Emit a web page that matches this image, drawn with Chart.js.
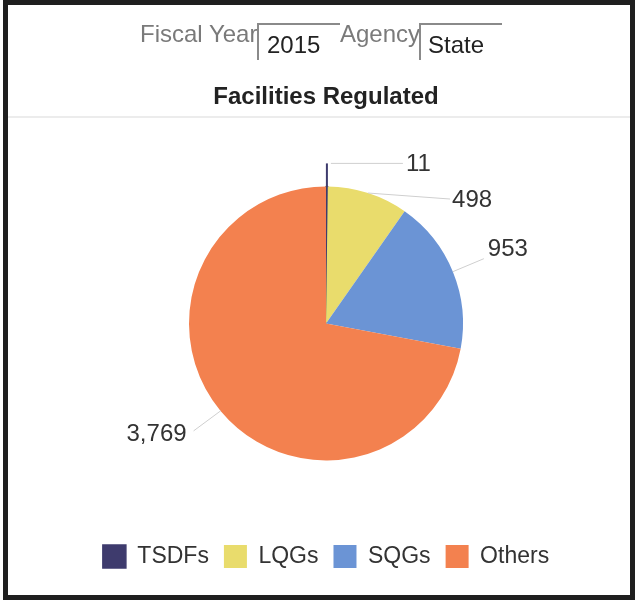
<!DOCTYPE html>
<html><head><meta charset="utf-8">
<script src="https://cdn.jsdelivr.net/npm/chart.js@4.4.1/dist/chart.umd.min.js"></script>
<style>
html,body{margin:0;padding:0;background:#fff;}
body{width:635px;height:602px;position:relative;overflow:hidden;font-family:'Liberation Sans',Arial,sans-serif;}
#frame{position:absolute;left:3px;top:0;width:632px;height:600px;border:5px solid #1f1f1f;box-sizing:border-box;}
#sep{position:absolute;left:8px;top:116px;width:622px;height:2px;background:#ececec;}
#wrap{position:absolute;left:0;top:0;width:635px;height:602px;}
.t{position:absolute;font-size:24px;line-height:24px;white-space:nowrap;z-index:2;}
.lbl{color:#7a7a7a;}
.val{color:#222;}
.box{position:absolute;border-top:2px solid #8a8a8a;border-left:2px solid #8a8a8a;z-index:2;}
</style></head>
<body>
<div id="frame"></div>
<div id="sep"></div>
<div id="wrap"><canvas id="c" width="635" height="602"></canvas></div>
<div class="t lbl" id="fyLabel" style="left:140px;top:22px;">Fiscal Year</div>
<div class="box" style="left:257px;top:23px;width:81px;height:35px;"></div>
<div class="t val" id="fyValue" style="left:267px;top:33px;"></div>
<div class="t lbl" id="agLabel" style="left:340px;top:22px;">Agency</div>
<div class="box" style="left:419px;top:23px;width:81px;height:35px;"></div>
<div class="t val" id="agValue" style="left:428px;top:33px;"></div>
<script>
// ---- data ----
const categories = ['TSDFs', 'LQGs', 'SQGs', 'Others'];
const facilities = [11, 498, 953, 3769];
const fiscalYear = '2015';
const agency = 'State';
const chartTitle = 'Facilities Regulated';

// ---- styles ----
const sliceColors = ['#3e3b6d', '#e9dc6c', '#6b94d5', '#f3814f'];
const FONT = "'Liberation Sans', Arial, sans-serif";

document.getElementById('fyValue').textContent = fiscalYear;
document.getElementById('agValue').textContent = agency;

// leader line geometry relative to each slice's outer mid-point
const leaderGeometry = [
  {elbow: [0, -23], end: [76, -23], text: [79, -22], align: 'left'},
  {elbow: null, end: [82, 6], text: [84, 7], align: 'left'},
  {elbow: null, end: [31, -13], text: [35, -22], align: 'left'},
  {elbow: null, end: [-27, 20], text: [-34, 23], align: 'right'}
];

const leaderLabels = {
  id: 'leaderLabels',
  afterDatasetsDraw(chart) {
    const ctx = chart.ctx;
    const meta = chart.getDatasetMeta(0);
    const data = chart.data.datasets[0].data;
    meta.data.forEach((arc, i) => {
      const p = arc.getProps(['x', 'y', 'startAngle', 'endAngle', 'outerRadius'], true);
      const mid = (p.startAngle + p.endAngle) / 2;
      const ex = p.x + Math.cos(mid) * p.outerRadius;
      const ey = p.y + Math.sin(mid) * p.outerRadius;
      const g = leaderGeometry[i];
      ctx.save();
      let sx = ex, sy = ey;
      if (g.elbow) {
        ctx.strokeStyle = sliceColors[i];
        ctx.lineWidth = 2;
        ctx.beginPath();
        ctx.moveTo(ex, ey);
        ctx.lineTo(ex + g.elbow[0], ey + g.elbow[1]);
        ctx.stroke();
        sx = ex + g.elbow[0] + 4; sy = ey + g.elbow[1];
      }
      ctx.strokeStyle = '#cfcfcf';
      ctx.lineWidth = 1;
      ctx.beginPath();
      ctx.moveTo(sx, sy);
      ctx.lineTo(ex + g.end[0], ey + g.end[1]);
      ctx.stroke();
      ctx.fillStyle = '#333';
      ctx.font = '24px ' + FONT;
      ctx.textAlign = g.align;
      ctx.textBaseline = 'middle';
      ctx.fillText(data[i].toLocaleString('en-US'), ex + g.text[0], ey + g.text[1]);
      ctx.restore();
    });
  }
};

new Chart(document.getElementById('c'), {
  type: 'pie',
  data: {
    labels: categories,
    datasets: [{
      data: facilities,
      backgroundColor: sliceColors,
      borderColor: sliceColors,
      borderWidth: [1.5, 0, 0, 0],
      radius: 137
    }]
  },
  options: {
    responsive: false,
    animation: false,
    events: [],
    layout: {padding: {left: 17, right: 0, top: 0, bottom: 24}},
    plugins: {
      title: {
        display: true,
        text: chartTitle,
        color: '#222',
        font: {family: FONT, size: 24, weight: 'bold'},
        padding: {top: 83, bottom: 5}
      },
      legend: {
        position: 'bottom',
        labels: {
          boxWidth: 23,
          boxHeight: 23,
          padding: 15,
          color: '#333',
          font: {family: FONT, size: 23}
        }
      },
      tooltip: {enabled: false}
    }
  },
  plugins: [leaderLabels]
});
</script>
</body></html>
